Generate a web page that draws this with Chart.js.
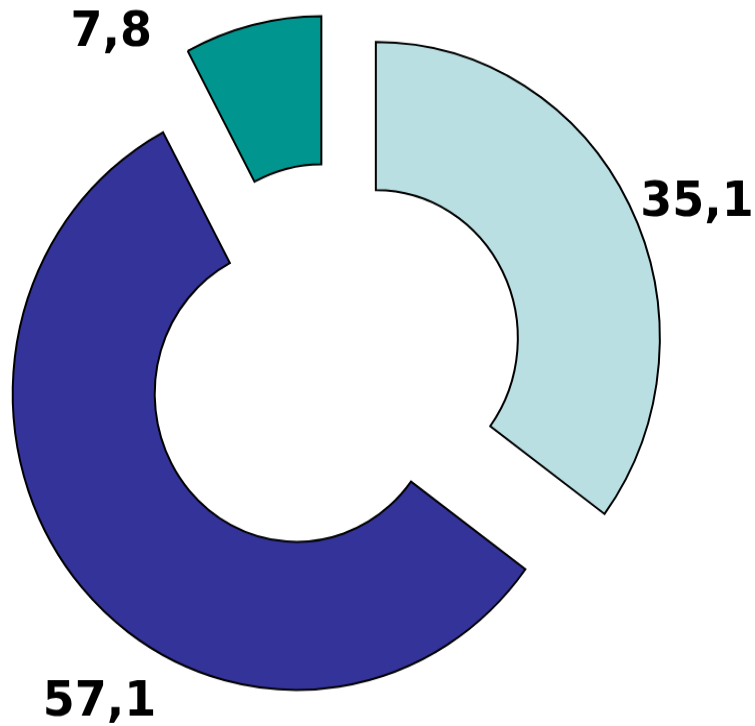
<!DOCTYPE html>
<html>
<head>
<meta charset="utf-8">
<script src="https://cdn.jsdelivr.net/npm/chart.js@4/dist/chart.umd.min.js"></script>
<style>
  html, body { margin: 0; padding: 0; background: #ffffff; overflow: hidden; }
</style>
</head>
<body>
<canvas id="c" width="755" height="696" style="display:block;width:755px;height:726px;"></canvas>
<script>
// ---- data ----
const categories = ['A', 'B', 'C'];
const values = [35.1, 57.1, 7.8];
const colors = ['#B9DFE3', '#333399', '#00968F'];

// ---- layout (not data) ----
const EXPLODE = 48;                        // px each slice is pulled out
const LABEL_ANGLE = [67.35, 214.1, 322.3]; // degrees clockwise from 12 o'clock
const LABEL_DIST = [1.225, 1.239, 1.21];   // times outer radius
const LABEL_FONT_SIZE = 46;

const explodePlugin = {
  id: 'explode',
  beforeDatasetDraw(chart, args) {
    const ctx = chart.ctx;
    args.meta.data.forEach(arc => {
      const mid = (arc.startAngle + arc.endAngle) / 2;
      ctx.save();
      ctx.translate(Math.cos(mid) * EXPLODE, Math.sin(mid) * EXPLODE);
      arc.draw(ctx);
      ctx.restore();
    });
    return false;
  },
  afterDatasetsDraw(chart) {
    const ctx = chart.ctx;
    const meta = chart.getDatasetMeta(0);
    ctx.save();
    ctx.fillStyle = '#000000';
    ctx.font = 'bold ' + LABEL_FONT_SIZE + 'px "DejaVu Sans", Verdana, sans-serif';
    ctx.textAlign = 'center';
    ctx.textBaseline = 'alphabetic';
    meta.data.forEach((arc, i) => {
      const mid = (arc.startAngle + arc.endAngle) / 2;
      const cx = arc.x + Math.cos(mid) * EXPLODE;
      const cy = arc.y + Math.sin(mid) * EXPLODE;
      const a = (LABEL_ANGLE[i] - 90) * Math.PI / 180;
      const d = LABEL_DIST[i] * arc.outerRadius;
      const x = cx + Math.cos(a) * d;
      const y = cy + Math.sin(a) * d + 0.364 * LABEL_FONT_SIZE;
      const txt = values[i].toFixed(1).replace('.', ',');
      ctx.fillText(txt, x, y);
    });
    ctx.restore();
  }
};

new Chart(document.getElementById('c'), {
  type: 'doughnut',
  data: {
    labels: categories,
    datasets: [{
      data: values,
      backgroundColor: colors,
      borderColor: '#000000',
      borderWidth: 2,
      borderJoinStyle: 'miter',
      borderAlign: 'center',
      hoverOffset: 0
    }]
  },
  options: {
    responsive: false,
    animation: false,
    radius: 284,
    cutout: '50%',
    rotation: 0,
    layout: { padding: { left: 0, right: 89, top: 0, bottom: 4 } },
    plugins: {
      legend: { display: false },
      tooltip: { enabled: false }
    }
  },
  plugins: [explodePlugin]
});
</script>
</body>
</html>
